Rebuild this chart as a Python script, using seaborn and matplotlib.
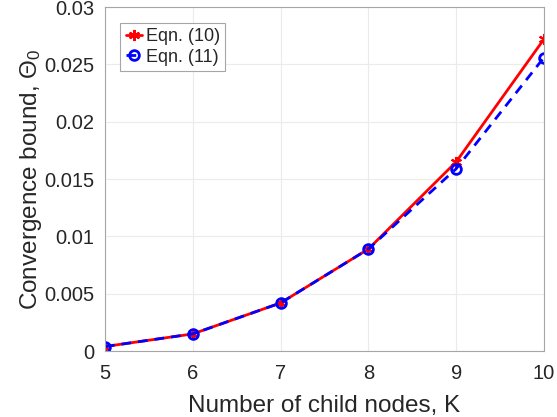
import pandas as pd
import matplotlib
matplotlib.use("Agg")
import matplotlib.pyplot as plt
import seaborn as sns

# data
child_nodes = [5, 6, 7, 8, 9, 10]
bound_eqn10 = [0.0004, 0.0015, 0.0042, 0.0089, 0.0165, 0.0272]
bound_eqn11 = [0.0004, 0.0015, 0.0042, 0.0089, 0.0159, 0.0256]
y_ticks = [0, 0.005, 0.01, 0.015, 0.02, 0.025, 0.03]
y_tick_labels = ["0", "0.005", "0.01", "0.015", "0.02", "0.025", "0.03"]

df = pd.DataFrame({"K": child_nodes, "eq10": bound_eqn10, "eq11": bound_eqn11})

sns.set_style("whitegrid")
plt.rcParams["font.family"] = ["Liberation Sans", "DejaVu Sans"]
plt.rcParams["mathtext.fontset"] = "custom"
plt.rcParams["mathtext.rm"] = "Liberation Sans"
plt.rcParams["mathtext.it"] = "Liberation Sans"

fig = plt.figure(figsize=(5.57, 4.17), dpi=100)
ax = fig.add_axes([0.1885, 0.158, 0.788, 0.825])

sns.lineplot(x="K", y="eq10", data=df, ax=ax, color="#ff0000", lw=2,
             marker=(6, 2, 0), markersize=8, markeredgewidth=1.5,
             markeredgecolor="#ff0000", label="Eqn. (10)")
sns.lineplot(x="K", y="eq11", data=df, ax=ax, color="#0000ff", lw=2,
             linestyle=(0, (3.5, 2.5)), marker="o", markersize=7,
             markerfacecolor="none", markeredgewidth=2,
             markeredgecolor="#0000ff", label="Eqn. (11)")

ax.set_xlim(5, 10)
ax.set_ylim(0, 0.03)
ax.set_yticks(y_ticks)
ax.set_yticklabels(y_tick_labels)
ax.set_xticks(child_nodes)
ax.set_xlabel("Number of child nodes, K", fontsize=17.5, color="#262626",
              labelpad=9)
ax.set_ylabel(r"Convergence bound, $\Theta_0$", fontsize=17.5,
              color="#262626", labelpad=0)
ax.tick_params(labelsize=14.5, direction="in", length=4, color="#a6a6a6",
               labelcolor="#262626")
ax.tick_params(axis="x", pad=9)
ax.tick_params(axis="y", pad=8)
ax.grid(True, color="#ebebeb", lw=0.8)
for s in ax.spines.values():
    s.set_color("#a6a6a6")
    s.set_linewidth(0.8)

leg = ax.legend(loc="upper left", bbox_to_anchor=(0.035, 0.955), fontsize=13,
                frameon=True, fancybox=False, edgecolor="#a6a6a6",
                handlelength=0.9, handletextpad=0.2, borderpad=0.3,
                labelspacing=0.2, borderaxespad=0)
leg.get_frame().set_linewidth(0.8)
leg.get_frame().set_alpha(1)

plt.savefig("out.png", dpi=100)
